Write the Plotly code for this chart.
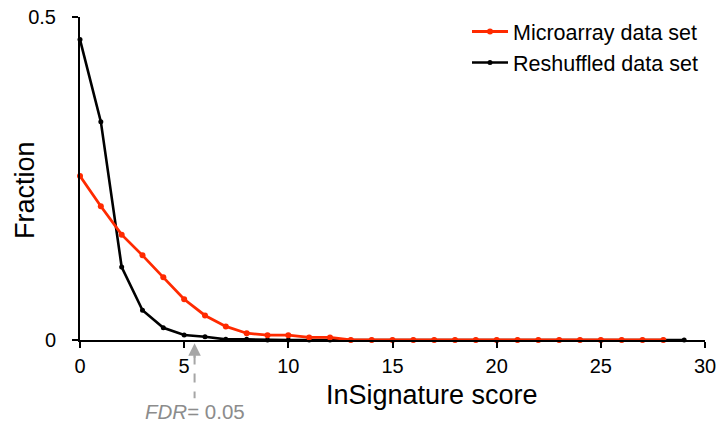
import plotly.graph_objects as go

# InSignature score bins
scores_micro = list(range(0, 29))
scores_shuf = list(range(0, 30))

# Fraction of signatures per score
micro_fraction = [0.254, 0.207, 0.163, 0.131, 0.097, 0.063, 0.038, 0.021, 0.0105, 0.0074,
                  0.0074, 0.004, 0.004, 0, 0, 0, 0, 0, 0, 0,
                  0, 0, 0, 0, 0, 0, 0, 0, 0]
shuffled_fraction = [0.465, 0.338, 0.113, 0.046, 0.019, 0.0077, 0.005, 0.001, 0.001, 0,
                     0, 0, 0, 0, 0, 0, 0, 0, 0, 0,
                     0, 0, 0, 0, 0, 0, 0, 0, 0, 0]

x_ticks = [0, 5, 10, 15, 20, 25, 30]
y_ticks = [0, 0.5]
y_tick_text = ["0", "0.5"]

fdr_score = 5.5

RED = "#ff2a00"
GREY = "#a6a6a6"
FONT = "Liberation Sans, Arial, sans-serif"

fig = go.Figure()
fig.add_trace(go.Scatter(
    x=scores_shuf, y=shuffled_fraction, mode="lines+markers",
    name="Reshuffled data set",
    line=dict(color="black", width=2.6), marker=dict(color="black", size=5),
    cliponaxis=False,
))
fig.add_trace(go.Scatter(
    x=scores_micro, y=micro_fraction, mode="lines+markers",
    name="Microarray data set",
    line=dict(color=RED, width=2.8), marker=dict(color=RED, size=6),
    cliponaxis=False,
))

# FDR threshold: dashed grey arrow pointing up at the axis
fig.add_shape(type="line", xref="x", yref="paper",
              x0=fdr_score, x1=fdr_score, y0=-0.048, y1=-0.18,
              line=dict(color=GREY, width=2, dash="dash"))
fig.add_annotation(
    x=fdr_score, y=-0.01, xref="x", yref="paper",
    ax=0, ay=16, showarrow=True, arrowhead=2, arrowsize=1.25,
    arrowwidth=2, arrowcolor=GREY, text="",
)
fig.add_annotation(
    x=fdr_score, y=-(411 - 340) / 323, xref="x", yref="paper", yanchor="middle",
    text="<i>FDR</i>= 0.05", showarrow=False,
    font=dict(family=FONT, size=20.5, color="#8c8c8c"),
)

# Axis titles
fig.add_annotation(
    xref="paper", x=(432 - 80) / 625, yref="paper", y=-(395 - 340) / 323,
    xanchor="center", yanchor="middle", showarrow=False,
    text="InSignature score", font=dict(family=FONT, size=27, color="black"),
)
fig.add_annotation(
    xref="paper", x=-(80 - 25) / 625, yref="paper", y=(340 - 190) / 323,
    text="Fraction", textangle=-90, showarrow=False,
    xanchor="center", yanchor="middle",
    font=dict(family=FONT, size=27, color="black"),
)

fig.update_layout(
    width=720, height=434,
    margin=dict(l=80, r=15, t=17, b=94, autoexpand=False),
    plot_bgcolor="white", paper_bgcolor="white",
    font=dict(family=FONT, size=20, color="black"),
    showlegend=True,
    legend=dict(
        x=(467 - 80) / 625, y=1.0 + 6 / 323, xanchor="left", yanchor="top",
        traceorder="reversed",
        font=dict(family=FONT, size=21.5, color="black"),
        bgcolor="rgba(0,0,0,0)", itemwidth=36, tracegroupgap=0,
    ),
    xaxis=dict(
        range=[0, 30], tickvals=x_ticks, showgrid=False, zeroline=False,
        showline=True, linecolor="black", linewidth=2,
        ticks="outside", ticklen=6, tickwidth=2, tickcolor="black",
        tickfont=dict(size=20), ticklabelstandoff=1, automargin=False,
    ),
    yaxis=dict(
        range=[0, 0.5], tickvals=y_ticks, ticktext=y_tick_text,
        showgrid=False, zeroline=False,
        showline=True, linecolor="black", linewidth=2,
        ticks="outside", ticklen=6, tickwidth=2, tickcolor="black",
        tickfont=dict(size=20), ticklabelstandoff=12, automargin=False,
    ),
)

fig.write_html("out.html")
